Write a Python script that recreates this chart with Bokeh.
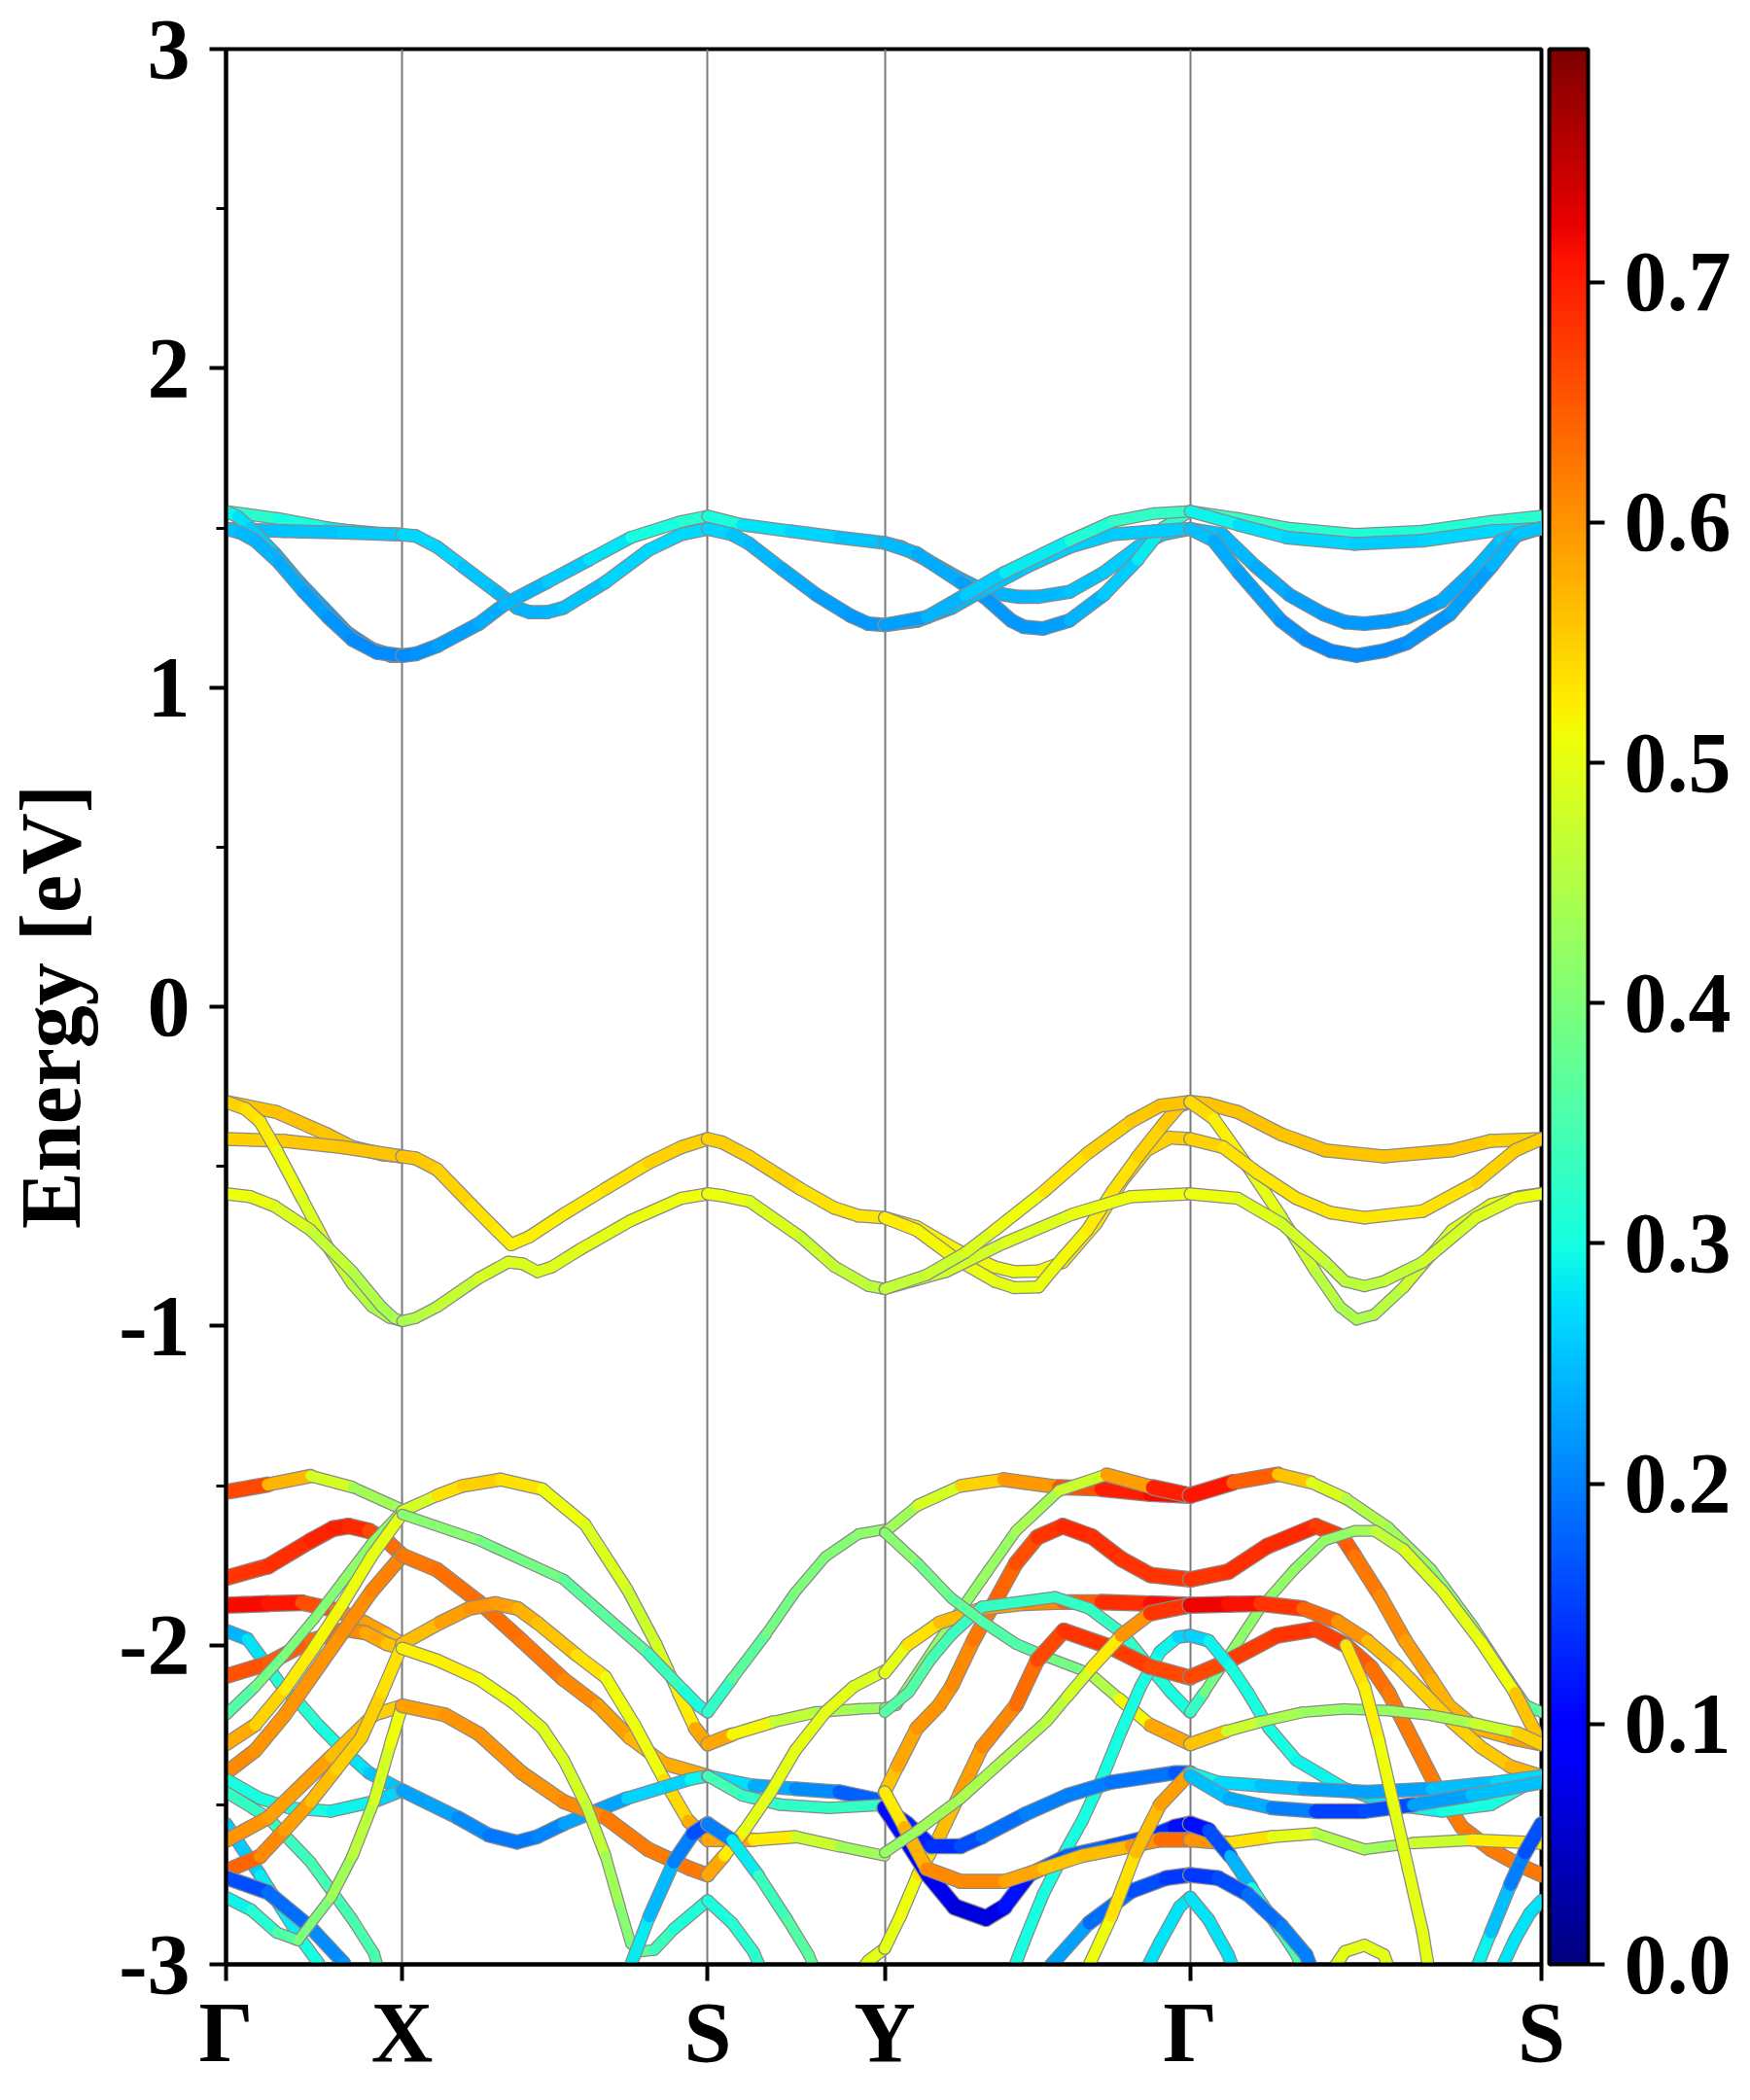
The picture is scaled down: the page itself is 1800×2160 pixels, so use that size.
import numpy as np
from bokeh.plotting import figure
from bokeh.models import (LinearColorMapper, ColorBar, FixedTicker, PrintfTickFormatter,
                          ColumnDataSource)
from bokeh.transform import linear_cmap
from bokeh.embed import file_html
from bokeh.resources import INLINE

# ---------------- data ----------------
kpoint_pos = [0.0, 1.81, 4.95, 6.77, 9.91, 13.52]
kpoint_labels = ["Γ", "X", "S", "Y", "Γ", "S"]
energy_ticks = [-3, -2, -1, 0, 1, 2, 3]
energy_minor = [-2.5, -1.5, -0.5, 0.5, 1.5, 2.5]
cbar_ticks = [0.0, 0.1, 0.2, 0.3, 0.4, 0.5, 0.6, 0.7]
w_max = 0.797

# each band: list of (k, energy, weight)
cond_gx = [
    [(0, 1.552, .33), (0.52, 1.53, .31), (1.04, 1.50, .29), (1.3, 1.49, .28), (1.6, 1.482, .27), (1.81, 1.479, .27)],
    [(0, 1.497, .25), (0.6, 1.49, .25), (1.2, 1.485, .26), (1.81, 1.479, .26)],
    [(0, 1.552, .30), (0.12, 1.535, .28), (0.25, 1.50, .27), (0.5, 1.42, .25), (0.75, 1.33, .24), (1.0, 1.25, .23),
     (1.25, 1.17, .22), (1.5, 1.12, .21), (1.7, 1.10, .21), (1.81, 1.10, .21)],
    [(0, 1.497, .25), (0.15, 1.485, .25), (0.3, 1.46, .24), (0.55, 1.39, .24), (0.8, 1.30, .23), (1.05, 1.22, .22),
     (1.3, 1.15, .21), (1.55, 1.11, .21), (1.81, 1.10, .21)],
]
cond_xs = [
    [(1.81, 1.479, .27), (1.95, 1.475, .27), (2.17, 1.44, .27), (2.43, 1.38, .26), (2.78, 1.30, .25), (2.99, 1.25, .24),
     (3.12, 1.236, .24), (3.3, 1.236, .24), (3.47, 1.25, .25), (3.9, 1.33, .26), (4.34, 1.43, .27), (4.68, 1.48, .27),
     (4.95, 1.497, .27)],
    [(1.81, 1.10, .21), (1.95, 1.105, .21), (2.17, 1.13, .22), (2.6, 1.20, .23), (2.86, 1.26, .24), (3.3, 1.33, .25),
     (3.73, 1.40, .27), (4.16, 1.47, .29), (4.68, 1.52, .31), (4.95, 1.537, .32)],
]
cond_sy = [
    [(4.95, 1.537, .32), (5.3, 1.51, .29), (5.8, 1.49, .27), (6.3, 1.47, .26), (6.77, 1.453, .25)],
    [(4.95, 1.497, .27), (5.2, 1.48, .26), (5.38, 1.45, .25), (5.72, 1.37, .24), (6.07, 1.29, .23),
     (6.42, 1.225, .22), (6.6, 1.20, .22), (6.77, 1.196, .22)],
]
cond_yg = [
    [(6.77, 1.453, .25), (6.94, 1.44, .25), (7.2, 1.40, .24), (7.55, 1.34, .24), (7.81, 1.30, .24),
     (8.15, 1.284, .24), (8.34, 1.284, .24), (8.67, 1.30, .25), (9.02, 1.36, .26), (9.37, 1.44, .26),
     (9.63, 1.48, .26), (9.91, 1.497, .26)],
    [(6.77, 1.453, .25), (7.1, 1.42, .24), (7.55, 1.33, .23), (7.81, 1.28, .22), (8.07, 1.21, .22),
     (8.2, 1.19, .22), (8.4, 1.185, .22), (8.67, 1.21, .23), (9.02, 1.29, .25), (9.37, 1.40, .27), (9.63, 1.50, .30),
     (9.91, 1.552, .33)],
    [(6.77, 1.196, .22), (7.11, 1.21, .23), (7.46, 1.25, .24), (7.81, 1.31, .25), (8.24, 1.38, .26),
     (8.67, 1.44, .26), (9.11, 1.48, .26), (9.54, 1.49, .26), (9.91, 1.497, .26)],
    [(6.77, 1.196, .22), (7.2, 1.22, .23), (7.6, 1.29, .25), (8.0, 1.36, .27), (8.67, 1.46, .30),
     (9.11, 1.52, .32), (9.54, 1.545, .33), (9.91, 1.552, .33)],
]
cond_gs = [
    [(9.91, 1.552, .33), (10.4, 1.53, .33), (10.9, 1.50, .32), (11.6, 1.48, .31), (12.3, 1.49, .31),
     (13.0, 1.52, .31), (13.52, 1.537, .32)],
    [(9.91, 1.552, .30), (10.4, 1.51, .28), (10.9, 1.47, .27), (11.6, 1.45, .26), (12.3, 1.46, .26),
     (13.0, 1.49, .27), (13.52, 1.497, .27)],
    [(9.91, 1.497, .26), (10.24, 1.48, .25), (10.58, 1.38, .24), (10.93, 1.29, .23), (11.28, 1.23, .22),
     (11.5, 1.205, .22), (11.7, 1.20, .22), (11.95, 1.208, .22), (12.14, 1.22, .22), (12.49, 1.27, .23),
     (12.84, 1.37, .24), (13.1, 1.46, .25), (13.52, 1.50, .26)],
    [(9.91, 1.497, .26), (10.15, 1.46, .24), (10.41, 1.36, .23), (10.84, 1.21, .22), (11.1, 1.15, .21),
     (11.35, 1.115, .21), (11.62, 1.10, .21), (11.9, 1.115, .21), (12.14, 1.14, .21), (12.58, 1.23, .22),
     (13.01, 1.38, .23), (13.27, 1.48, .25), (13.52, 1.50, .26)],
]

val_gx = [
    [(0, -0.298, .56), (0.52, -0.33, .56), (1.04, -0.40, .56), (1.3, -0.44, .56), (1.6, -0.462, .56), (1.81, -0.469, .56)],
    [(0, -0.414, .55), (0.6, -0.42, .55), (1.2, -0.44, .56), (1.81, -0.469, .56)],
    [(0, -0.298, .55), (0.2, -0.32, .54), (0.35, -0.36, .53), (0.52, -0.45, .52), (0.78, -0.60, .50), (1.04, -0.75, .48),
     (1.3, -0.87, .46), (1.5, -0.94, .45), (1.68, -0.975, .44), (1.81, -0.985, .44)],
    [(0, -0.586, .51), (0.25, -0.595, .51), (0.5, -0.625, .50), (0.87, -0.70, .48), (1.3, -0.83, .46), (1.6, -0.94, .44),
     (1.73, -0.976, .44), (1.81, -0.985, .44)],
]
val_xs = [
    [(1.81, -0.469, .56), (1.95, -0.475, .56), (2.17, -0.51, .55), (2.52, -0.62, .54), (2.78, -0.70, .53),
     (2.93, -0.745, .52), (3.12, -0.72, .52), (3.47, -0.65, .52), (3.9, -0.57, .53), (4.34, -0.49, .54),
     (4.68, -0.44, .55), (4.95, -0.414, .55)],
    [(1.81, -0.985, .44), (1.95, -0.975, .45), (2.17, -0.94, .46), (2.6, -0.85, .48), (2.9, -0.80, .49),
     (3.05, -0.805, .49), (3.2, -0.83, .49), (3.35, -0.815, .49), (3.64, -0.76, .50), (4.16, -0.67, .50),
     (4.68, -0.60, .51), (4.95, -0.586, .51)],
]
val_sy = [
    [(4.95, -0.414, .55), (5.1, -0.425, .55), (5.38, -0.47, .55), (5.9, -0.57, .54), (6.25, -0.63, .53),
     (6.5, -0.655, .53), (6.77, -0.661, .53)],
    [(4.95, -0.586, .51), (5.1, -0.592, .51), (5.38, -0.61, .50), (5.9, -0.72, .48), (6.25, -0.813, .47),
     (6.6, -0.874, .46), (6.77, -0.884, .46)],
]
val_yg = [
    [(6.77, -0.661, .53), (7.1, -0.69, .52), (7.5, -0.76, .52), (7.9, -0.815, .51), (8.1, -0.83, .51),
     (8.35, -0.828, .51), (8.6, -0.80, .52), (8.94, -0.68, .53), (9.2, -0.55, .54), (9.46, -0.45, .55),
     (9.7, -0.41, .55), (9.91, -0.414, .55)],
    [(6.77, -0.661, .53), (7.1, -0.70, .52), (7.5, -0.79, .51), (7.9, -0.86, .50), (8.1, -0.88, .50),
     (8.35, -0.878, .50), (8.59, -0.79, .51), (8.85, -0.70, .52), (9.11, -0.58, .53), (9.37, -0.47, .54),
     (9.63, -0.37, .55), (9.8, -0.31, .56), (9.91, -0.298, .56)],
    [(6.77, -0.884, .46), (7.4, -0.83, .47), (8.0, -0.74, .49), (8.7, -0.65, .50), (9.3, -0.595, .51),
     (9.91, -0.586, .51)],
    [(6.77, -0.884, .46), (7.2, -0.84, .47), (7.6, -0.77, .48), (7.9, -0.70, .50), (8.4, -0.58, .52),
     (8.85, -0.46, .54), (9.3, -0.36, .55), (9.6, -0.31, .56), (9.91, -0.298, .56)],
]
val_gs = [
    [(9.91, -0.298, .56), (10.1, -0.305, .56), (10.4, -0.33, .56), (10.85, -0.40, .56), (11.3, -0.45, .56),
     (11.9, -0.469, .56), (12.6, -0.45, .56), (13.0, -0.42, .55), (13.52, -0.414, .55)],
    [(9.91, -0.298, .55), (10.15, -0.35, .53), (10.5, -0.50, .51), (10.85, -0.66, .49), (11.2, -0.83, .46),
     (11.45, -0.94, .45), (11.62, -0.98, .44), (11.8, -0.965, .45), (12.1, -0.88, .46), (12.6, -0.70, .49),
     (13.0, -0.62, .50), (13.3, -0.595, .51), (13.52, -0.586, .51)],
    [(9.91, -0.414, .55), (10.25, -0.44, .54), (10.6, -0.52, .53), (11.0, -0.60, .53), (11.35, -0.645, .53),
     (11.7, -0.661, .53), (12.3, -0.64, .53), (12.85, -0.55, .54), (13.25, -0.45, .55), (13.52, -0.414, .55)],
    [(9.91, -0.586, .51), (10.4, -0.60, .50), (10.85, -0.68, .49), (11.3, -0.80, .47), (11.5, -0.86, .46),
     (11.7, -0.875, .46), (11.9, -0.86, .46), (12.3, -0.80, .47), (12.85, -0.66, .49), (13.25, -0.60, .50),
     (13.52, -0.586, .51)],
]

low_gx = [
    [(0, -1.52, .71), (0.43, -1.497, .62), (0.87, -1.47, .52), (1.30, -1.505, .45), (1.81, -1.575, .42)],
    [(0, -1.789, .68), (0.43, -1.753, .68), (0.87, -1.673, .69), (1.1, -1.635, .70), (1.26, -1.627, .70),
     (1.47, -1.642, .68), (1.65, -1.673, .65), (1.81, -1.718, .62)],
    [(0, -1.875, .72), (0.43, -1.870, .71), (0.78, -1.867, .70), (1.13, -1.890, .62), (1.43, -1.930, .60),
     (1.65, -1.966, .58), (1.81, -1.996, .55)],
    [(0, -1.955, .22), (0.22, -1.981, .26), (0.43, -2.067, .30), (0.6, -2.14, .32), (0.75, -2.18, .32),
     (0.95, -2.25, .31), (1.21, -2.33, .29), (1.47, -2.40, .27), (1.81, -2.455, .24)],
    [(0, -2.097, .66), (0.43, -2.057, .65), (0.87, -1.986, .64), (1.21, -1.951, .62), (1.43, -1.961, .60),
     (1.65, -1.996, .57), (1.81, -2.011, .55)],
    [(0, -2.218, .33), (0.3, -2.13, .38), (0.6, -2.03, .40), (0.9, -1.92, .40), (1.2, -1.80, .41),
     (1.5, -1.68, .42), (1.81, -1.58, .42)],
    [(0, -2.31, .60), (0.3, -2.25, .56), (0.6, -2.14, .53), (0.9, -2.01, .52), (1.2, -1.87, .51),
     (1.5, -1.72, .50), (1.81, -1.59, .50)],
    [(0, -2.40, .62), (0.3, -2.33, .60), (0.6, -2.22, .60), (0.9, -2.09, .60), (1.2, -1.96, .60),
     (1.5, -1.83, .61), (1.81, -1.72, .62)],
    [(0, -2.42, .30), (0.35, -2.48, .30), (0.65, -2.51, .30), (1.08, -2.52, .30), (1.52, -2.49, .28),
     (1.81, -2.455, .25)],
    [(0, -2.46, .33), (0.43, -2.54, .33), (0.87, -2.68, .34), (1.30, -2.86, .35), (1.52, -2.965, .35),
     (1.6, -3.05, .35)],
    [(0, -2.56, .25), (0.35, -2.72, .27), (0.78, -2.925, .30), (0.95, -2.996, .30), (1.0, -3.05, .30)],
    [(0, -2.612, .60), (0.43, -2.541, .60), (1.08, -2.349, .58), (1.52, -2.218, .55), (1.81, -2.19, .55)],
    [(0, -2.708, .66), (0.35, -2.662, .62), (0.6, -2.58, .60), (0.87, -2.49, .58), (1.13, -2.39, .55),
     (1.39, -2.29, .55), (1.6, -2.15, .55), (1.81, -2.0, .52)],
    [(0, -2.728, .15), (0.43, -2.774, .17), (0.87, -2.885, .20), (1.21, -2.996, .22), (1.28, -3.05, .22)],
    [(0, -2.79, .28), (0.26, -2.83, .30), (0.52, -2.90, .33), (0.74, -2.925, .38), (1.08, -2.79, .42),
     (1.30, -2.66, .45), (1.52, -2.49, .47), (1.69, -2.31, .50), (1.81, -2.19, .52)],
]
low_xs = [
    [(1.81, -1.58, .45), (2.17, -1.531, .52), (2.43, -1.501, .55), (2.82, -1.481, .55), (3.25, -1.511, .52),
     (3.69, -1.622, .50), (4.12, -1.824, .48), (4.42, -1.996, .47), (4.65, -2.15, .50), (4.82, -2.26, .55),
     (4.95, -2.31, .62)],
    [(1.81, -1.59, .42), (2.6, -1.672, .40), (3.47, -1.794, .38), (4.34, -2.026, .35), (4.7, -2.14, .32),
     (4.86, -2.19, .30), (4.95, -2.21, .30)],
    [(1.81, -1.718, .62), (2.17, -1.764, .63), (2.6, -1.865, .63), (3.04, -1.986, .63), (3.47, -2.107, .62),
     (3.82, -2.188, .60), (4.15, -2.29, .58), (4.5, -2.37, .56), (4.95, -2.41, .60)],
    [(1.81, -1.996, .55), (2.2, -1.93, .58), (2.5, -1.885, .60), (2.77, -1.870, .60), (3.0, -1.885, .58),
     (3.2, -1.93, .57), (3.6, -2.03, .55), (3.9, -2.10, .52), (4.2, -2.25, .50), (4.5, -2.42, .52),
     (4.75, -2.55, .56), (4.95, -2.61, .60)],
    [(1.81, -2.455, .24), (2.38, -2.54, .22), (2.7, -2.595, .20), (2.99, -2.617, .19), (3.2, -2.60, .20),
     (3.47, -2.56, .21), (4.12, -2.48, .25), (4.77, -2.42, .28), (4.95, -2.41, .30)],
    [(1.81, -2.19, .58), (2.25, -2.218, .60), (2.6, -2.278, .60), (3.04, -2.40, .60), (3.47, -2.49, .60),
     (3.9, -2.54, .62), (4.34, -2.64, .62), (4.77, -2.70, .62), (4.95, -2.72, .63)],
    [(1.81, -2.01, .52), (2.17, -2.047, .52), (2.6, -2.107, .52), (2.95, -2.18, .50), (3.25, -2.26, .50),
     (3.47, -2.36, .49), (3.7, -2.50, .48), (3.9, -2.66, .45), (4.05, -2.82, .42), (4.16, -2.935, .40),
     (4.25, -2.96, .38), (4.4, -2.955, .35), (4.6, -2.89, .32), (4.95, -2.80, .30)],
    [(4.1, -3.05, .30), (4.35, -2.85, .27), (4.6, -2.68, .22), (4.8, -2.59, .18), (4.95, -2.56, .15)],
]
low_sy = [
    [(4.95, -2.21, .30), (5.20, -2.107, .35), (5.55, -1.966, .38), (5.85, -1.834, .40), (6.16, -1.723, .40),
     (6.50, -1.652, .41), (6.77, -1.637, .42)],
    [(4.95, -2.31, .62), (5.2, -2.28, .55), (5.63, -2.24, .48), (6.07, -2.21, .45), (6.5, -2.20, .43),
     (6.77, -2.197, .42)],
    [(4.95, -2.41, .30), (5.42, -2.44, .25), (5.85, -2.45, .22), (6.3, -2.46, .20), (6.77, -2.49, .15)],
    [(4.95, -2.41, .35), (5.3, -2.47, .33), (5.7, -2.50, .32), (6.2, -2.51, .33), (6.77, -2.50, .33)],
    [(4.95, -2.61, .62), (5.42, -2.61, .55), (5.85, -2.60, .50), (6.3, -2.63, .45), (6.77, -2.66, .42)],
    [(4.95, -2.72, .62), (5.12, -2.66, .55), (5.33, -2.58, .50), (5.6, -2.46, .50), (5.85, -2.33, .50),
     (6.16, -2.21, .50), (6.45, -2.13, .50), (6.77, -2.08, .48)],
    [(4.95, -2.56, .15), (5.2, -2.61, .25), (5.47, -2.72, .32), (5.77, -2.86, .35), (5.99, -2.97, .37),
     (6.1, -3.05, .37)],
    [(4.95, -2.80, .30), (5.2, -2.87, .31), (5.42, -2.96, .32), (5.55, -3.05, .32)],
    [(6.45, -3.05, .50), (6.6, -2.99, .50), (6.77, -2.95, .50)],
]
low_yg = [
    [(6.77, -1.647, .42), (7.11, -1.562, .45), (7.55, -1.501, .52), (7.99, -1.481, .57), (8.56, -1.505, .62),
     (9.0, -1.51, .69), (9.5, -1.525, .71), (9.91, -1.531, .72)],
    [(6.77, -2.197, .42), (6.89, -2.188, .42), (7.33, -1.986, .42), (7.77, -1.794, .42), (8.12, -1.642, .43),
     (8.56, -1.516, .45), (9.05, -1.466, .50), (9.53, -1.506, .68), (9.91, -1.531, .72)],
    [(6.77, -2.46, .55), (6.9, -2.38, .57), (7.1, -2.26, .60), (7.33, -2.188, .60), (7.46, -2.127, .60),
     (7.68, -1.986, .62), (7.9, -1.865, .63), (8.12, -1.743, .65), (8.34, -1.662, .67), (8.6, -1.627, .69),
     (8.9, -1.66, .69), (9.2, -1.73, .68), (9.5, -1.78, .68), (9.91, -1.794, .68)],
    [(6.77, -2.087, .48), (7.0, -2.0, .52), (7.33, -1.93, .55), (7.77, -1.885, .58), (8.2, -1.87, .60),
     (8.6, -1.865, .62), (9.0, -1.865, .67), (9.5, -1.87, .70), (9.91, -1.875, .72)],
    [(6.77, -2.21, .36), (7.02, -2.147, .36), (7.24, -2.046, .35), (7.46, -1.966, .34), (7.77, -1.88, .33),
     (8.52, -1.85, .33), (8.87, -1.885, .33), (9.22, -1.965, .33), (9.49, -2.067, .32), (9.71, -2.147, .30),
     (9.91, -2.21, .30)],
    [(6.77, -1.647, .42), (7.11, -1.743, .40), (7.46, -1.854, .37), (7.77, -1.925, .36), (8.12, -1.996, .35),
     (8.43, -2.036, .36), (8.87, -2.087, .42), (9.18, -2.168, .48), (9.5, -2.25, .55), (9.91, -2.31, .62)],
    [(8.05, -3.05, .30), (8.2, -2.93, .30), (8.4, -2.78, .30), (8.6, -2.66, .30), (8.8, -2.55, .30),
     (9.0, -2.42, .30), (9.2, -2.27, .30), (9.4, -2.13, .30), (9.6, -2.02, .30),
     (9.78, -1.975, .28), (9.91, -1.97, .25)],
    [(6.77, -2.95, .50), (6.93, -2.85, .50), (7.11, -2.72, .52), (7.33, -2.60, .55), (7.55, -2.46, .58),
     (7.77, -2.32, .60), (8.12, -2.188, .62), (8.34, -2.046, .65), (8.61, -1.955, .68), (9.09, -2.006, .68),
     (9.49, -2.067, .67), (9.91, -2.102, .66)],
    [(6.77, -2.51, .12), (7.0, -2.56, .12), (7.25, -2.63, .13), (7.55, -2.63, .15), (7.77, -2.60, .17),
     (8.21, -2.53, .20), (8.65, -2.47, .20), (9.09, -2.43, .20), (9.75, -2.40, .18), (9.91, -2.40, .16)],
    [(6.77, -2.51, .12), (6.97, -2.60, .10), (7.22, -2.72, .08), (7.49, -2.82, .07), (7.81, -2.855, .06),
     (8.0, -2.82, .08), (8.25, -2.72, .15), (8.65, -2.66, .18), (9.09, -2.63, .18), (9.5, -2.60, .15),
     (9.75, -2.57, .12), (9.91, -2.56, .10)],
    [(6.77, -2.46, .50), (6.97, -2.57, .55), (7.2, -2.70, .60), (7.55, -2.74, .62), (8.0, -2.74, .60),
     (8.4, -2.70, .57), (8.8, -2.66, .55), (9.3, -2.63, .58), (9.6, -2.61, .62), (9.91, -2.61, .65)],
    [(8.34, -3.05, .25), (8.87, -2.87, .20), (9.31, -2.77, .17), (9.66, -2.73, .15), (9.91, -2.72, .14)],
    [(9.4, -3.05, .28), (9.6, -2.93, .28), (9.8, -2.82, .28), (9.91, -2.79, .28)],
    [(8.8, -3.05, .50), (9.1, -2.85, .52), (9.35, -2.65, .55), (9.6, -2.50, .58), (9.91, -2.40, .60)],
    [(6.77, -2.65, .42), (7.11, -2.58, .43), (7.55, -2.48, .44), (7.99, -2.36, .45), (8.43, -2.24, .45),
     (8.65, -2.16, .47), (8.9, -2.07, .50), (9.2, -1.97, .55), (9.5, -1.90, .65), (9.91, -1.875, .71)],
]
low_gs = [
    [(9.91, -1.531, .72), (10.35, -1.49, .69), (10.81, -1.465, .60), (11.15, -1.49, .52), (11.51, -1.541, .46),
     (11.95, -1.632, .44), (12.39, -1.763, .42), (12.83, -1.945, .41), (13.18, -2.107, .40), (13.36, -2.188, .38),
     (13.52, -2.21, .35)],
    [(9.91, -1.794, .68), (10.3, -1.77, .68), (10.7, -1.69, .69), (11.2, -1.627, .69), (11.47, -1.66, .66),
     (11.6, -1.72, .63), (11.86, -1.845, .62), (12.12, -1.986, .60), (12.39, -2.107, .58), (12.57, -2.19, .57),
     (12.85, -2.26, .57), (13.2, -2.29, .58), (13.52, -2.31, .60)],
    [(9.91, -2.21, .30), (10.05, -2.15, .36), (10.28, -2.046, .42), (10.63, -1.884, .42), (10.98, -1.763, .42),
     (11.29, -1.672, .42), (11.6, -1.642, .42), (11.81, -1.642, .45), (12.1, -1.70, .48), (12.5, -1.83, .50),
     (12.9, -1.99, .50), (13.25, -2.15, .52), (13.52, -2.31, .60)],
    [(9.91, -1.875, .72), (10.3, -1.872, .72), (10.63, -1.87, .70), (11.07, -1.885, .66), (11.42, -1.925, .62),
     (11.73, -1.986, .58), (12.04, -2.066, .55), (12.3, -2.147, .55), (12.6, -2.24, .55), (12.9, -2.32, .55),
     (13.2, -2.38, .56), (13.52, -2.41, .58)],
    [(9.91, -2.10, .66), (10.3, -2.05, .67), (10.8, -1.97, .68), (11.2, -1.95, .68), (11.51, -2.0, .66),
     (11.77, -2.07, .64), (11.95, -2.15, .62), (12.2, -2.30, .62), (12.45, -2.45, .62), (12.7, -2.57, .62),
     (13.0, -2.64, .62), (13.3, -2.69, .62), (13.52, -2.72, .63)],
    [(9.91, -1.97, .25), (10.1, -1.986, .28), (10.32, -2.066, .30), (10.5, -2.147, .30), (10.72, -2.26, .30),
     (11.0, -2.36, .30), (11.5, -2.45, .28), (12.0, -2.50, .28), (12.5, -2.52, .30), (13.0, -2.50, .30),
     (13.52, -2.41, .30)],
    [(9.91, -2.31, .62), (10.28, -2.27, .50), (10.63, -2.24, .45), (11.07, -2.21, .43), (11.5, -2.20, .42),
     (11.95, -2.205, .42), (12.39, -2.22, .43), (12.83, -2.245, .45), (13.27, -2.275, .50), (13.52, -2.31, .60)],
    [(9.91, -2.40, .30), (10.2, -2.43, .28), (10.63, -2.44, .26), (11.07, -2.45, .24), (11.73, -2.46, .22),
     (12.39, -2.45, .24), (13.05, -2.43, .26), (13.52, -2.41, .28)],
    [(9.91, -2.41, .25), (10.3, -2.48, .25), (10.75, -2.51, .22), (11.2, -2.52, .18), (11.7, -2.52, .12),
     (12.2, -2.50, .20), (12.8, -2.47, .25), (13.52, -2.43, .25)],
    [(9.91, -2.61, .65), (10.3, -2.62, .55), (10.75, -2.60, .52), (11.2, -2.59, .48), (11.7, -2.64, .42),
     (12.2, -2.62, .45), (12.8, -2.61, .50), (13.52, -2.62, .55)],
    [(9.91, -2.56, .10), (10.1, -2.58, .12), (10.32, -2.66, .20), (10.54, -2.76, .28), (10.85, -2.90, .32),
     (11.0, -2.97, .35), (11.1, -3.05, .35)],
    [(9.91, -2.72, .14), (10.2, -2.73, .15), (10.5, -2.78, .17), (10.85, -2.88, .20), (11.1, -2.97, .20),
     (11.2, -3.05, .20)],
    [(9.91, -2.79, .28), (10.1, -2.86, .28), (10.3, -2.97, .28), (10.4, -3.05, .28)],
    [(12.8, -3.05, .30), (13.0, -2.90, .28), (13.2, -2.75, .22), (13.35, -2.65, .18), (13.52, -2.56, .15)],
    [(13.05, -3.05, .28), (13.25, -2.92, .28), (13.4, -2.84, .28), (13.52, -2.80, .28)],
    [(11.51, -2.0, .55), (11.7, -2.13, .52), (11.85, -2.30, .52), (12.0, -2.50, .50), (12.15, -2.70, .50),
     (12.3, -2.90, .50), (12.38, -3.05, .50)],
    [(11.3, -3.05, .50), (11.5, -2.96, .50), (11.7, -2.94, .50), (11.9, -2.97, .50), (12.0, -3.05, .50)],
]

# ---------------- colour map (jet) ----------------
def jet_palette(n=256):
    t = np.linspace(0, 1, n)
    r = np.interp(t, [0, 0.35, 0.66, 0.89, 1], [0, 0, 1, 1, 0.5])
    g = np.interp(t, [0, 0.125, 0.375, 0.64, 0.91, 1], [0, 0, 1, 1, 0, 0])
    b = np.interp(t, [0, 0.11, 0.34, 0.65, 1], [0.5, 1, 1, 0, 0])
    return ["#%02x%02x%02x" % (int(round(a * 255)), int(round(c * 255)), int(round(d * 255)))
            for a, c, d in zip(r, g, b)]

JET = jet_palette()
mapper = LinearColorMapper(palette=JET, low=0.0, high=w_max)

FONT = "Liberation Serif"
FRAME_H = 1970

p = figure(frame_width=1353, frame_height=FRAME_H, x_range=(kpoint_pos[0], kpoint_pos[-1]),
           y_range=(-3, 3), output_backend="svg", toolbar_location=None,
           min_border_left=232, min_border_top=50, min_border_right=10, min_border_bottom=10,
           background_fill_color="white", border_fill_color="white")

all_bands = (cond_gx + cond_xs + cond_sy + cond_yg + cond_gs +
             val_gx + val_xs + val_sy + val_yg + val_gs +
             low_gx + low_xs + low_sy + low_yg + low_gs)

for band in all_bands:
    arr = np.array(band, dtype=float)
    k, e, w = arr[:, 0], arr[:, 1], arr[:, 2]
    wm = (w[:-1] + w[1:]) / 2
    lw = 9.0 + 7.0 * np.clip(np.abs(wm - 0.40) / 0.35, 0, 1)
    src = ColumnDataSource(dict(x0=k[:-1], y0=e[:-1], x1=k[1:], y1=e[1:], w=wm, lw=lw, olw=lw + 2.5))
    p.segment("x0", "y0", "x1", "y1", source=src, line_width="olw", line_cap="round",
              line_color="#8a8a8a")
    p.segment("x0", "y0", "x1", "y1", source=src, line_width="lw", line_cap="round",
              line_color=linear_cmap("w", JET, 0.0, w_max))

# axes
p.outline_line_color = "black"
p.outline_line_width = 4
p.outline_line_alpha = 1

for ax in (p.xaxis, p.yaxis):
    ax.major_label_text_font = FONT
    ax.major_label_text_font_style = "bold"
    ax.major_label_text_font_size = "88px"
    ax.major_label_text_color = "black"
    ax.major_tick_out = 17
    ax.major_tick_in = 0
    ax.major_tick_line_width = 4
    ax.major_tick_line_color = "black"
    ax.axis_line_width = 4
    ax.axis_line_color = "black"

p.xaxis.ticker = FixedTicker(ticks=kpoint_pos)
p.xaxis.major_label_overrides = {kp: lab for kp, lab in zip(kpoint_pos, kpoint_labels)}
p.xaxis.major_label_standoff = 4
p.xaxis.minor_tick_line_color = None

p.yaxis.ticker = FixedTicker(ticks=energy_ticks, minor_ticks=energy_minor)
p.yaxis.formatter = PrintfTickFormatter(format="%d")
p.yaxis.major_label_standoff = 20
p.yaxis.minor_tick_out = 10
p.yaxis.minor_tick_in = 0
p.yaxis.minor_tick_line_width = 3
p.yaxis.minor_tick_line_color = "black"
p.yaxis.axis_label = "Energy [eV]"
p.yaxis.axis_label_text_font = FONT
p.yaxis.axis_label_text_font_style = "bold"
p.yaxis.axis_label_text_font_size = "88px"
p.yaxis.axis_label_text_color = "black"
p.yaxis.axis_label_standoff = 18

p.xgrid.ticker = FixedTicker(ticks=kpoint_pos)
p.xgrid.grid_line_color = "#7a7a7a"
p.xgrid.grid_line_width = 2
p.ygrid.grid_line_color = None

cb = ColorBar(color_mapper=mapper, ticker=FixedTicker(ticks=cbar_ticks),
              formatter=PrintfTickFormatter(format="%.1f"),
              width=40, height=FRAME_H, padding=0, margin=0, location=(8, 0),
              major_tick_out=17, major_tick_in=0, major_tick_line_color="black",
              major_tick_line_width=4, minor_tick_line_color=None,
              bar_line_color="black", bar_line_width=4,
              major_label_text_font=FONT, major_label_text_font_style="bold",
              major_label_text_font_size="88px", major_label_text_color="black",
              label_standoff=20,
              background_fill_alpha=0, border_line_color=None)
p.add_layout(cb, "right")

open("out.html", "w").write(file_html(p, INLINE))
